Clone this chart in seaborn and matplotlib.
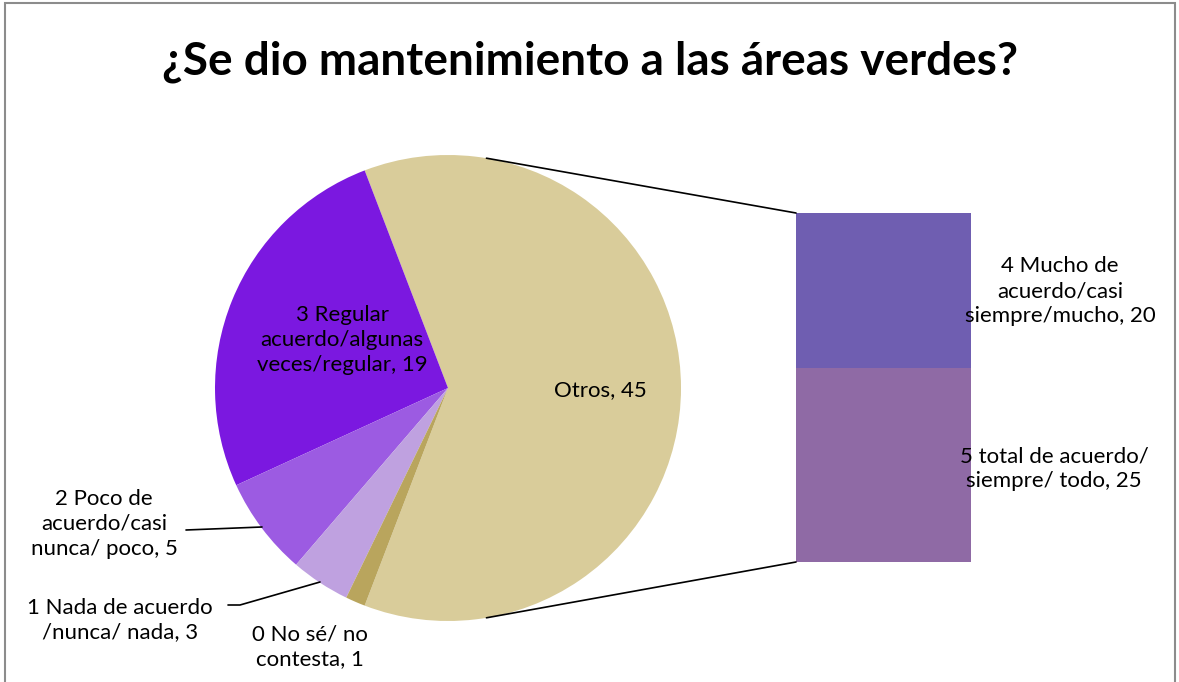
import numpy as np
import seaborn as sns
import matplotlib.pyplot as plt
from matplotlib.patches import Rectangle

# datos del grafico
titulo = "¿Se dio mantenimiento a las áreas verdes?"
etiquetas_pie = ["Otros", "3 Regular\nacuerdo/algunas\nveces/regular", "2 Poco de\nacuerdo/casi\nnunca/ poco",
                 "1 Nada de acuerdo\n/nunca/ nada", "0 No sé/ no\ncontesta"]
valores_pie = [45, 19, 5, 3, 1]
colores_pie = ["#D9CC9A", "#7B18E0", "#9C5BE2", "#BFA1E0", "#B9A55D"]
etiquetas_barra = ["5 total de acuerdo/\nsiempre/ todo", "4 Mucho de\nacuerdo/casi\nsiempre/mucho"]
valores_barra = [25, 20]
colores_barra = ["#8F6AA5", "#6F5EB1"]

sns.set_theme(style="white")
plt.rcParams["font.family"] = ["Lato", "DejaVu Sans"]
plt.rcParams["text.color"] = "black"

fig = plt.figure(figsize=(11.79, 6.82), dpi=100)
ax = fig.add_axes([0, 0, 1, 1])

# pie principal
cx, cy, r = 448, 682 - 388, 233
total = sum(valores_pie)
inicio = -360 * valores_pie[0] / total / 2
ax.pie(valores_pie, colors=colores_pie, startangle=inicio, counterclock=True,
       center=(cx, cy), radius=r, frame=True, wedgeprops=dict(linewidth=0))
ax.set_xlim(0, 1179)
ax.set_ylim(0, 682)
ax.set_aspect("equal")
ax.axis("off")

# barra apilada
bx, bw = 796, 175
escala = 349 / sum(valores_barra)
base = 682 - 562
for val, col in zip(valores_barra, colores_barra):
    ax.bar(bx, val * escala, width=bw, bottom=base, align="edge", color=col, linewidth=0)
    base += val * escala
top_barra = base

# lineas de conexion
ang = np.deg2rad(80.5)
ax.plot([cx + r * np.cos(ang), bx], [cy + r * np.sin(ang), top_barra], color="black", lw=1.2)
ax.plot([cx + r * np.cos(ang), bx], [cy - r * np.sin(ang), 682 - 562], color="black", lw=1.2)

fs = 16
ls = 1.3
ax.text(600, 682 - 390, f"{etiquetas_pie[0]}, {valores_pie[0]}", fontsize=fs, ha="center", va="center")
ax.text(342, 682 - 340, f"{etiquetas_pie[1]}, {valores_pie[1]}", fontsize=fs, ha="center", va="center",
        linespacing=ls)
ax.text(104, 682 - 524, f"{etiquetas_pie[2]}, {valores_pie[2]}", fontsize=fs, ha="center", va="center",
        linespacing=ls)
ax.plot([186, 262], [682 - 530, 682 - 527], color="black", lw=1.2)
ax.text(120, 682 - 620, f"{etiquetas_pie[3]}, {valores_pie[3]}", fontsize=fs, ha="center", va="center",
        linespacing=ls)
ax.plot([228, 240, 320], [682 - 605, 682 - 605, 682 - 582], color="black", lw=1.2)
ax.text(310, 682 - 647, f"{etiquetas_pie[4]}, {valores_pie[4]}", fontsize=fs, ha="center", va="center",
        linespacing=ls)

ax.text(1060, 682 - 291, f"{etiquetas_barra[1]}, {valores_barra[1]}", fontsize=fs, ha="center", va="center",
        linespacing=ls)
ax.text(1054, 682 - 469, f"{etiquetas_barra[0]}, {valores_barra[0]}", fontsize=fs, ha="center", va="center",
        linespacing=ls)

ax.text(590, 682 - 62, titulo, fontsize=33, fontweight="bold", ha="center", va="center")

# borde del grafico
ax.add_patch(Rectangle((5, -20), 1170, 682 - 3 + 20, fill=False, edgecolor="#8C8C8C", lw=1.5))

fig.savefig("out.png", dpi=100)
